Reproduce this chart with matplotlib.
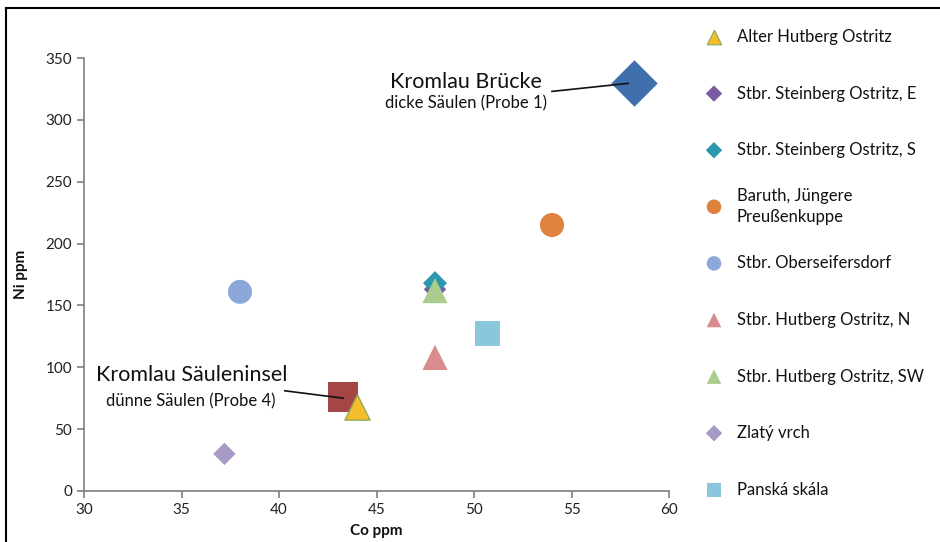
import matplotlib
import matplotlib.pyplot as plt
from matplotlib.lines import Line2D

matplotlib.use('Agg')

plt.rcParams['font.family'] = ['Lato', 'DejaVu Sans']

# legend series
labels = [
    "Alter Hutberg Ostritz",
    "Stbr. Steinberg Ostritz, E",
    "Stbr. Steinberg Ostritz, S",
    "Baruth, Jüngere\nPreußenkuppe",
    "Stbr. Oberseifersdorf",
    "Stbr. Hutberg Ostritz, N",
    "Stbr. Hutberg Ostritz, SW",
    "Zlatý vrch",
    "Panská skála",
]
co = [44.0, 48.0, 48.0, 54.0, 38.0, 48.0, 48.0, 37.2, 50.7]
ni = [68, 163, 168, 215, 161, 108, 162, 30, 127]
markers = ["^", "D", "D", "o", "o", "^", "^", "D", "s"]
colors = ["#F5BD2B", "#7A5CA3", "#2C98AE", "#DF813F", "#8CA8D8",
          "#D88C8E", "#A9CD8C", "#A89AC7", "#8AC7DC"]
sizes = [330, 130, 150, 300, 300, 330, 330, 130, 320]
edges = ["#8FAA55", "none", "none", "none", "none", "none", "none", "none", "none"]

# highlighted samples
kromlauLabels = ["Kromlau Brücke", "Kromlau Säuleninsel"]
kromlauSub = ["dicke Säulen (Probe 1)", "dünne Säulen (Probe 4)"]
kromlauCo = [58.2, 43.3]
kromlauNi = [330, 76]
kromlauMarkers = ["D", "s"]
kromlauColors = ["#3F6FAD", "#A54545"]
kromlauSizes = [560, 470]

fig = plt.figure(figsize=(9.4, 5.42), dpi=100)
ax = fig.add_axes([84 / 940, 1 - 491 / 542, 585 / 940, 433 / 542])

for x, y, m, c, s in zip(kromlauCo, kromlauNi, kromlauMarkers, kromlauColors, kromlauSizes):
    ax.scatter(x, y, marker=m, color=c, s=s, linewidths=0, zorder=2)

for x, y, m, c, s, ec in zip(co, ni, markers, colors, sizes, edges):
    ax.scatter(x, y, marker=m, color=c, s=s, edgecolors=ec, linewidths=1, zorder=3)

ax.set_xlim(30, 60)
ax.set_ylim(0, 350)
ax.set_xticks(range(30, 61, 5))
ax.set_yticks(range(0, 351, 50))
ax.spines["top"].set_visible(False)
ax.spines["right"].set_visible(False)
for sp in ["left", "bottom"]:
    ax.spines[sp].set_color("#7f7f7f")
    ax.spines[sp].set_linewidth(1.2)
ax.tick_params(colors="#7f7f7f", labelcolor="#222222", labelsize=11, length=5, width=1.2)
ax.set_xlabel("Co ppm", fontsize=11, fontweight="bold", color="#111111", labelpad=5)
ax.set_ylabel("Ni ppm", fontsize=11, fontweight="bold", color="#111111", labelpad=13)

# annotations
ax.text(49.6, 331, kromlauLabels[0], fontsize=15.5, ha="center", va="center", color="#111111")
ax.text(49.6, 313, kromlauSub[0], fontsize=12, ha="center", va="center", color="#111111")
ax.plot([54.0, 57.9], [323, 329.5], color="#111111", lw=1.2, zorder=4)

ax.text(35.5, 93.5, kromlauLabels[1], fontsize=15.5, ha="center", va="center", color="#111111")
ax.text(35.5, 72.5, kromlauSub[1], fontsize=12, ha="center", va="center", color="#111111")
ax.plot([40.3, 43.3], [81, 75], color="#111111", lw=1.2, zorder=4)

# legend drawn in its own axes
lax = fig.add_axes([690 / 940, 0, 250 / 940, 1])
lax.set_xlim(690, 940)
lax.set_ylim(542, 0)
lax.axis("off")
legSizes = [110, 70, 70, 110, 110, 110, 110, 70, 100]
for i, (lab, m, c, s, ec) in enumerate(zip(labels, markers, colors, legSizes, edges)):
    yy = 37 + i * 56.6
    lax.scatter(714, yy, marker=m, color=c, s=s, edgecolors=ec, linewidths=0.8)
    lax.text(737, yy, lab, fontsize=12, va="center", ha="left", color="#111111",
             linespacing=1.4)

# frame around the figure
fig.add_artist(Line2D([6 / 940, 6 / 940], [0, 1 - 8 / 542], color="black", lw=1.5))
fig.add_artist(Line2D([6 / 940, 1], [1 - 8 / 542, 1 - 8 / 542], color="black", lw=1.5))

fig.savefig("out.png", dpi=100)
